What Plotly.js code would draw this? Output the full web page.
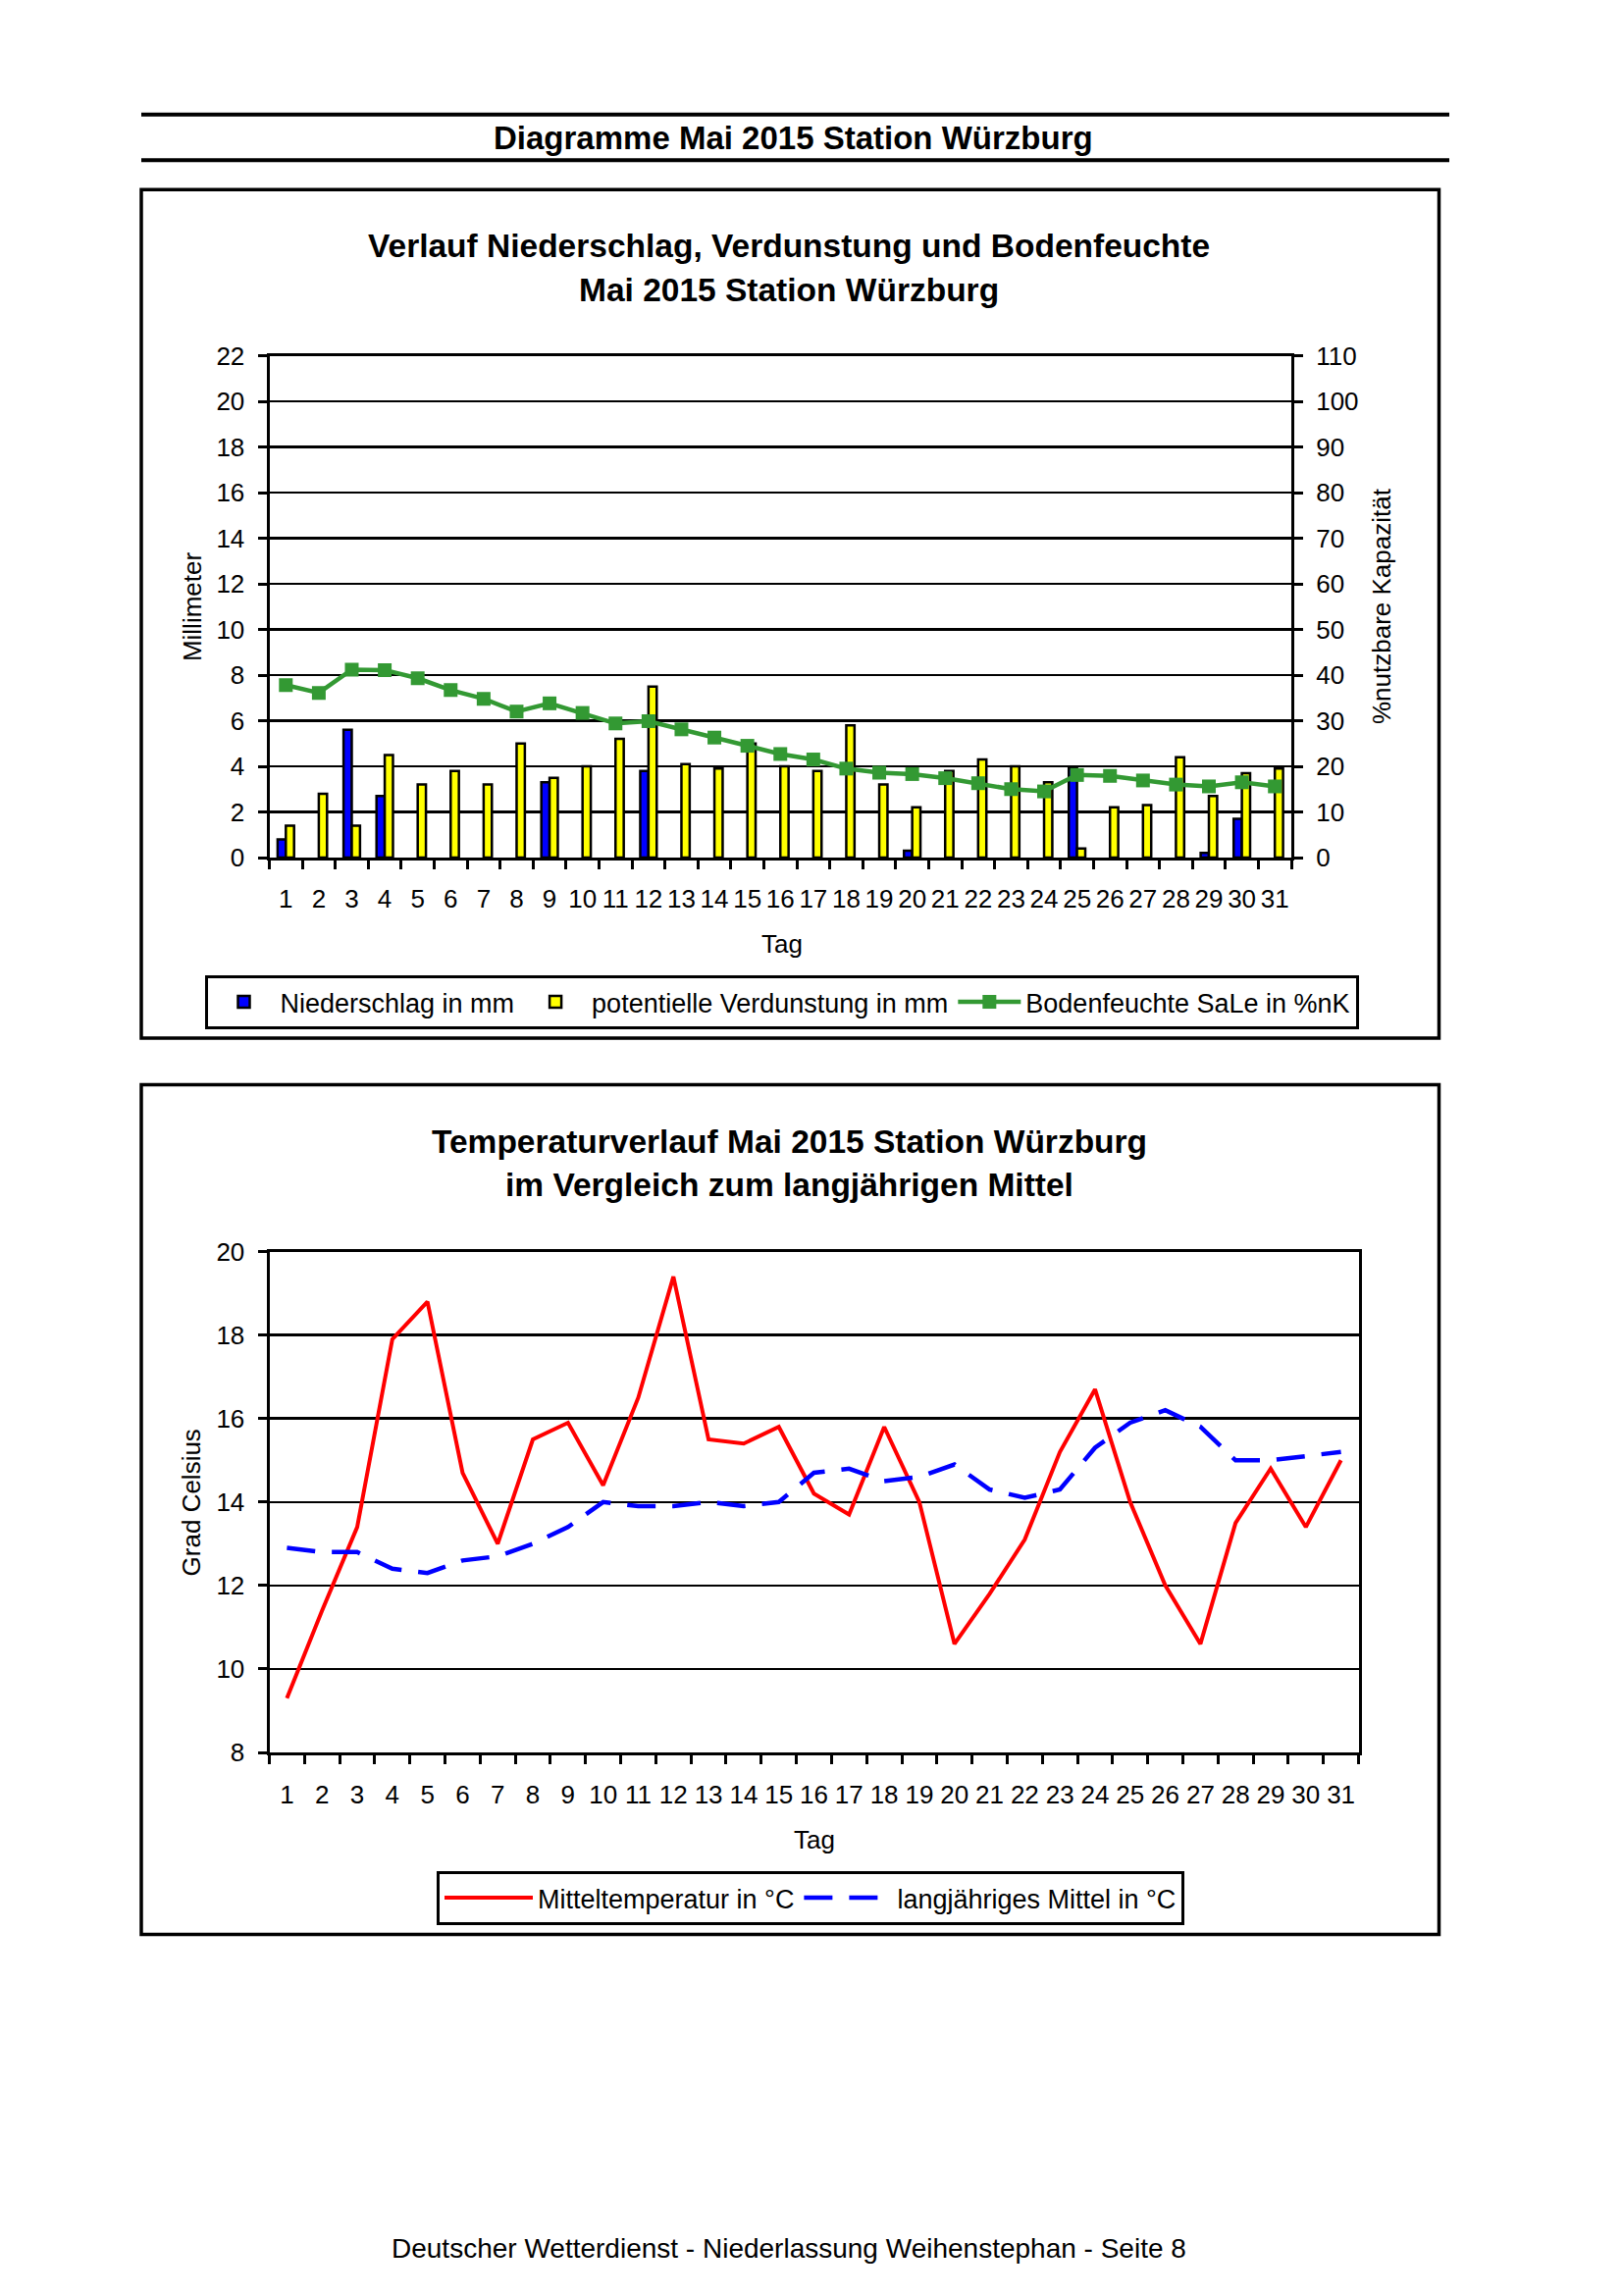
<!DOCTYPE html>
<html>
<head>
<meta charset="utf-8">
<script src="https://cdn.plot.ly/plotly-3.0.1.min.js"></script>
<style>
html,body{margin:0;padding:0;background:#fff;}
#chart{width:1653px;height:2340px;}
</style>
</head>
<body>
<div id="chart"></div>
<script>
// ---- data ----
const days = ['1','2','3','4','5','6','7','8','9','10','11','12','13','14','15','16','17','18','19','20','21','22','23','24','25','26','27','28','29','30','31'];
const niederschlag = [0.8,0,5.6,2.7,0,0,0,0,3.3,0,0,3.8,0,0,0,0,0,0,0,0.3,0,0,0,0,3.9,0,0,0,0.2,1.7,0];
const verdunstung = [1.4,2.8,1.4,4.5,3.2,3.8,3.2,5.0,3.5,4.0,5.2,7.5,4.1,3.9,5.0,4.0,3.8,5.8,3.2,2.2,3.8,4.3,4.0,3.3,0.4,2.2,2.3,4.4,2.7,3.7,3.9];
const bodenfeuchte = [37.8,36.1,41.2,41.1,39.3,36.7,34.8,32.0,33.8,31.7,29.4,29.9,28.1,26.3,24.5,22.7,21.5,19.5,18.6,18.3,17.4,16.3,15.0,14.5,18.1,17.9,16.9,16.0,15.6,16.5,15.6];
const mittelTemp = [9.3,11.4,13.4,17.9,18.8,14.7,13.0,15.5,15.9,14.4,16.5,19.4,15.5,15.4,15.8,14.2,13.7,15.8,14.0,10.6,11.8,13.1,15.2,16.7,14.0,12.0,10.6,13.5,14.8,13.4,15.0];
const langMittel = [12.9,12.8,12.8,12.4,12.3,12.6,12.7,13.0,13.4,14.0,13.9,13.9,14.0,13.9,14.0,14.7,14.8,14.5,14.6,14.9,14.3,14.1,14.3,15.3,15.9,16.2,15.8,15.0,15.0,15.1,15.2];

// ---- layout helpers ----
const W = 1653, H = 2340;
const fx = x => x / W;
const fy = y => 1 - y / H;
const FONT = '"Liberation Sans", Arial, sans-serif';
const BLACK = '#000000';
const noZero = arr => arr.map(v => (v === 0 ? null : v));

const traces = [
  {type:'bar', name:'Niederschlag in mm', x:days, y:noZero(niederschlag), xaxis:'x', yaxis:'y',
   marker:{color:'#0000FF', line:{color:BLACK, width:2.5}}, legend:'legend'},
  {type:'bar', name:'potentielle Verdunstung in mm', x:days, y:noZero(verdunstung), xaxis:'x', yaxis:'y',
   marker:{color:'#FFFF00', line:{color:BLACK, width:2.5}}, legend:'legend'},
  {type:'scatter', mode:'lines+markers', name:'Bodenfeuchte SaLe in %nK', x:days, y:bodenfeuchte, xaxis:'x', yaxis:'y2',
   line:{color:'#339933', width:4.5}, marker:{symbol:'square', size:14, color:'#339933'}, legend:'legend'},
  {type:'scatter', mode:'lines', name:'Mitteltemperatur in °C', x:days, y:mittelTemp, xaxis:'x2', yaxis:'y3',
   line:{color:'#FF0000', width:4}, legend:'legend2'},
  {type:'scatter', mode:'lines', name:'langjähriges Mittel in °C', x:days, y:langMittel, xaxis:'x2', yaxis:'y3',
   line:{color:'#0000FF', width:4.5, dash:'29px,17px'}, legend:'legend2'}
];

const axCommon = {
  ticks:'outside', ticklen:9, tickwidth:3, tickcolor:BLACK,
  showline:true, linewidth:3, linecolor:BLACK, zeroline:false,
  tickfont:{family:FONT, size:26, color:BLACK}, fixedrange:true
};

const layout = {
  width:W, height:H,
  margin:{l:0, r:0, t:0, b:0},
  paper_bgcolor:'#ffffff', plot_bgcolor:'#ffffff',
  font:{family:FONT, color:BLACK},
  showlegend:true,
  barmode:'group', bargap:0.5, bargroupgap:0,
  hovermode:false,
  xaxis: Object.assign({}, axCommon, {
    domain:[fx(274.5), fx(1316)], anchor:'y', type:'category',
    range:[-0.5, 30.5], tickson:'boundaries', mirror:true, showgrid:false,
    tickangle:0, ticklabelstandoff:17
  }),
  yaxis: Object.assign({}, axCommon, {
    domain:[fy(874), fy(362.5)], anchor:'x', range:[0,22], tick0:0, dtick:2,
    showgrid:true, gridcolor:BLACK, gridwidth:2.5, ticklabelstandoff:8
  }),
  yaxis2: Object.assign({}, axCommon, {
    overlaying:'y', side:'right', anchor:'x', range:[0,110], tick0:0, dtick:10,
    showgrid:false, ticklabelstandoff:8
  }),
  xaxis2: Object.assign({}, axCommon, {
    domain:[fx(274.5), fx(1384.5)], anchor:'y3', type:'category',
    range:[-0.5, 30.5], tickson:'boundaries', mirror:true, showgrid:false,
    tickangle:0, ticklabelstandoff:18
  }),
  yaxis3: Object.assign({}, axCommon, {
    domain:[fy(1786), fy(1275.6)], anchor:'x2', range:[8,20], tick0:8, dtick:2,
    mirror:true, showgrid:true, gridcolor:BLACK, gridwidth:2.5, ticklabelstandoff:8
  }),
  legend:{
    x:fx(796.5), y:fy(994), xanchor:'center', yanchor:'top', orientation:'h',
    bordercolor:BLACK, borderwidth:3, bgcolor:'#ffffff',
    font:{family:FONT, size:27, color:BLACK}, traceorder:'normal', itemwidth:64
  },
  legend2:{
    x:fx(826), y:fy(1907), xanchor:'center', yanchor:'top', orientation:'h',
    bordercolor:BLACK, borderwidth:3, bgcolor:'#ffffff',
    font:{family:FONT, size:27, color:BLACK}, traceorder:'normal', itemwidth:90
  },
  shapes:[
    {type:'line', xref:'paper', yref:'paper', x0:fx(144), x1:fx(1477), y0:fy(116.7), y1:fy(116.7), line:{color:BLACK, width:4}},
    {type:'line', xref:'paper', yref:'paper', x0:fx(144), x1:fx(1477), y0:fy(163.3), y1:fy(163.3), line:{color:BLACK, width:4}},
    {type:'rect', xref:'paper', yref:'paper', x0:fx(144), x1:fx(1466.5), y0:fy(193.3), y1:fy(1058), line:{color:BLACK, width:3.5}},
    {type:'rect', xref:'paper', yref:'paper', x0:fx(144), x1:fx(1466.5), y0:fy(1105.5), y1:fy(1971.5), line:{color:BLACK, width:3.5}}
  ],
  annotations:[
    {text:'<b>Diagramme Mai 2015 Station Würzburg</b>', x:fx(808), y:fy(140), size:33},
    {text:'<b>Verlauf Niederschlag, Verdunstung und Bodenfeuchte</b>', x:fx(804), y:fy(250.6), size:33.5},
    {text:'<b>Mai 2015 Station Würzburg</b>', x:fx(804), y:fy(295.4), size:33.5},
    {text:'Millimeter', x:fx(195.4), y:fy(617.7), size:26, angle:-90},
    {text:'%nutzbare Kapazität', x:fx(1408), y:fy(618), size:26, angle:-90},
    {text:'Tag', x:fx(796.7), y:fy(962.3), size:26},
    {text:'<b>Temperaturverlauf Mai 2015 Station Würzburg</b>', x:fx(804), y:fy(1163.7), size:33.5},
    {text:'<b>im Vergleich zum langjährigen Mittel</b>', x:fx(804), y:fy(1207), size:33.5},
    {text:'Grad Celsius', x:fx(195.4), y:fy(1531), size:26, angle:-90},
    {text:'Tag', x:fx(829.5), y:fy(1875.3), size:26},
    {text:'Deutscher Wetterdienst - Niederlassung Weihenstephan - Seite 8', x:fx(804), y:fy(2291.6), size:28}
  ].map(a => ({
    text:a.text, x:a.x, y:a.y, xref:'paper', yref:'paper', xanchor:'center', yanchor:'middle',
    showarrow:false, textangle:a.angle || 0, font:{family:FONT, size:a.size, color:BLACK}
  }))
};

Plotly.newPlot('chart', traces, layout, {staticPlot:true, displayModeBar:false});
</script>
</body>
</html>
